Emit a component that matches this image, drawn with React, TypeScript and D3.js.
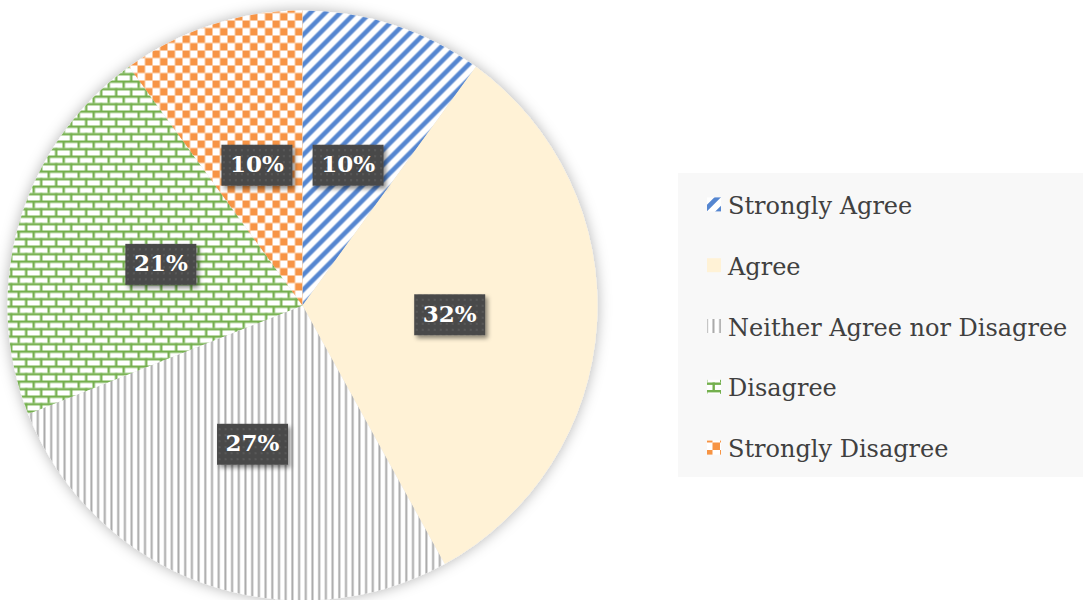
import React from 'react';
import * as d3 from 'd3';

const categories = ['Strongly Agree', 'Agree', 'Neither Agree nor Disagree', 'Disagree', 'Strongly Disagree'];
const values = [10, 32, 27, 21, 10];
const patternIds = ['pStripe', 'pAgree', 'pVert', 'pBrick', 'pCheck'];

const W = 1083;
const H = 600;
const cx = 302.5;
const cy = 305.5;
const R = 295;

export default function App() {
  const pie = d3.pie<number>().sort(null).value((d) => d);
  const arcs = pie(values);
  const arc = d3.arc<d3.PieArcDatum<number>>().innerRadius(0).outerRadius(R);
  const labelArc = d3.arc<d3.PieArcDatum<number>>().innerRadius(R * 0.5).outerRadius(R * 0.5);
  const total = d3.sum(values);

  const legendY = d3.scaleBand<string>().domain(categories).range([174, 478]).paddingInner(0).paddingOuter(0);

  return (
    <svg width={W} height={H} style={{ position: 'absolute', left: 0, top: 0, background: '#fff' }}>
      <defs>
        <filter id="pieShadow" x="-10%" y="-10%" width="120%" height="120%">
          <feGaussianBlur in="SourceAlpha" stdDeviation="7" />
          <feOffset dx="0" dy="0" result="b" />
          <feFlood floodColor="#000" floodOpacity="0.3" />
          <feComposite in2="b" operator="in" />
          <feMerge>
            <feMergeNode />
            <feMergeNode in="SourceGraphic" />
          </feMerge>
        </filter>
        <filter id="boxShadow" x="-20%" y="-20%" width="150%" height="160%">
          <feDropShadow dx="2.5" dy="3" stdDeviation="2" floodColor="#000" floodOpacity="0.45" />
        </filter>
        <pattern id="pStripe" patternUnits="userSpaceOnUse" width="15" height="15">
          <rect width="15" height="15" fill="#fff" />
          <path d="M-4,4 L4,-4 M0,15 L15,0 M11,19 L19,11" stroke="#5586D0" strokeWidth="4.6" />
        </pattern>
        <pattern id="pAgree" patternUnits="userSpaceOnUse" width="10" height="10">
          <rect width="10" height="10" fill="#FFF2D6" />
        </pattern>
        <pattern id="pVert" patternUnits="userSpaceOnUse" width="6.7" height="10">
          <rect width="6.7" height="10" fill="#fff" />
          <rect x="2.3" width="2" height="10" fill="#A9A9A9" />
        </pattern>
        <pattern id="pBrick" patternUnits="userSpaceOnUse" width="15" height="15">
          <rect width="15" height="15" fill="#fff" />
          <rect x="0" y="0" width="15" height="2.4" fill="#74B04E" />
          <rect x="0" y="7.5" width="15" height="2.4" fill="#74B04E" />
          <rect x="0" y="0" width="2.4" height="7.5" fill="#74B04E" />
          <rect x="7.5" y="7.5" width="2.4" height="7.5" fill="#74B04E" />
        </pattern>
        <pattern id="pCheck" patternUnits="userSpaceOnUse" width="15" height="15">
          <rect width="15" height="15" fill="#fff" />
          <rect x="0" y="0" width="7.5" height="7.5" fill="#F79444" />
          <rect x="7.5" y="7.5" width="7.5" height="7.5" fill="#F79444" />
        </pattern>
        <pattern id="pDots" patternUnits="userSpaceOnUse" width="6" height="6">
          <rect width="6" height="6" fill="#4A4A4A" />
          <circle cx="3" cy="3" r="0.9" fill="#5E5E5E" />
        </pattern>
      </defs>

      <g transform={`translate(${cx},${cy})`}>
        <g filter="url(#pieShadow)">
          {arcs.map((a, i) => (
            <path key={categories[i]} d={arc(a) || ''} fill={`url(#${patternIds[i]})`} />
          ))}
        </g>
        {arcs.map((a, i) => {
          const [lx, ly] = labelArc.centroid(a);
          const text = `${Math.round((values[i] / total) * 100)}%`;
          return (
            <g key={'l' + categories[i]} transform={`translate(${lx},${ly})`}>
              <rect x={-35.5} y={-20.5} width={71} height={41} fill="url(#pDots)" filter="url(#boxShadow)" />
              <text
                x={0}
                y={1}
                textAnchor="middle"
                dominantBaseline="middle"
                fill="#fff"
                fontFamily="'DejaVu Serif', serif"
                fontWeight="bold"
                fontSize={23}
              >
                {text}
              </text>
            </g>
          );
        })}
      </g>

      <rect x={678} y={173} width={405} height={304} fill="#F8F8F8" />
      {categories.map((c, i) => {
        const y = (legendY(c) || 0) + legendY.bandwidth() / 2;
        return (
          <g key={'leg' + c}>
            <rect x={707} y={y - 7} width={14} height={14} fill={`url(#${patternIds[i]})`} />
            <text
              x={728}
              y={y + 3}
              dominantBaseline="middle"
              fill="#404040"
              fontFamily="'DejaVu Serif', serif"
              fontSize={24}
            >
              {c}
            </text>
          </g>
        );
      })}
    </svg>
  );
}
